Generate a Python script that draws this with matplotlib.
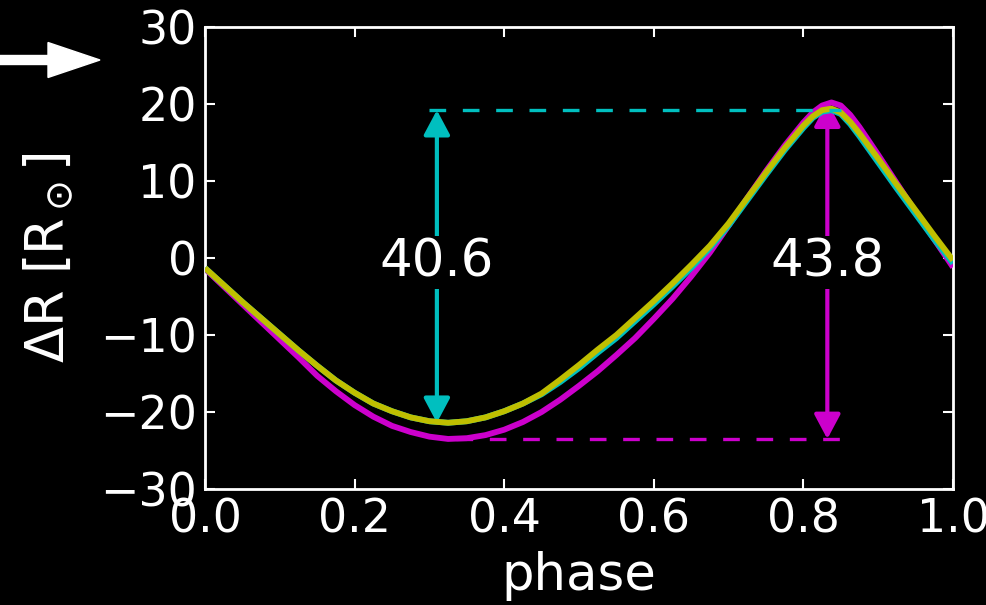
import matplotlib
matplotlib.use("Agg")
import matplotlib.pyplot as plt
from matplotlib.patches import FancyArrow

# Orbital phase grid shared by the three radius-variation curves
phase = [0.000, 0.025, 0.050, 0.075, 0.100, 0.125, 0.150, 0.175, 0.200, 0.225,
         0.250, 0.275, 0.300, 0.325, 0.350, 0.375, 0.400, 0.425, 0.450, 0.475,
         0.500, 0.525, 0.550, 0.575, 0.600, 0.625, 0.650, 0.675, 0.700, 0.725,
         0.750, 0.775, 0.800, 0.8125, 0.825, 0.8375, 0.850, 0.8625, 0.875, 0.900,
         0.925, 0.950, 0.975, 1.000]

dr_magenta = [-1.4, -3.7, -6.0, -8.3, -10.6, -12.9, -15.3, -17.3, -19.1, -20.6,
              -21.8, -22.6, -23.2, -23.5, -23.4, -23.0, -22.3, -21.3, -20.0, -18.4,
              -16.6, -14.7, -12.6, -10.4, -7.9, -5.3, -2.4, 0.7, 4.2, 7.8,
              11.3, 14.6, 17.6, 18.9, 19.8, 20.2, 19.8, 18.6, 17.0, 13.4,
              9.7, 6.0, 2.4, -1.2]

dr_cyan = [-1.3, -3.5, -5.7, -7.8, -9.9, -12.0, -14.0, -15.9, -17.5, -18.9,
           -19.9, -20.7, -21.2, -21.4, -21.2, -20.7, -19.9, -18.9, -17.7, -16.1,
           -14.3, -12.3, -10.4, -8.2, -6.0, -3.7, -1.3, 1.3, 4.2, 7.5,
           10.8, 14.0, 16.9, 18.2, 19.0, 19.2, 18.7, 17.4, 15.8, 12.4,
           9.0, 5.7, 2.4, -0.7]

dr_yellow = [-1.3, -3.5, -5.7, -7.8, -9.9, -12.0, -14.0, -15.9, -17.5, -18.9,
             -19.9, -20.7, -21.2, -21.4, -21.2, -20.7, -19.9, -18.9, -17.6, -15.8,
             -13.9, -11.9, -10.0, -7.8, -5.6, -3.3, -0.9, 1.6, 4.5, 7.8,
             11.1, 14.3, 17.2, 18.4, 19.2, 19.4, 18.9, 17.7, 16.2, 12.9,
             9.5, 6.2, 2.9, -0.3]

# Peak-to-peak amplitudes marked by the vertical arrows
cyan_max, cyan_min, cyan_at = 19.2, -21.4, 0.31
mag_max, mag_min, mag_at = 20.3, -23.5, 0.832

x_ticks = [0.0, 0.2, 0.4, 0.6, 0.8, 1.0]
y_ticks = [-30, -20, -10, 0, 10, 20, 30]

MAGENTA = "#cc00cc"
CYAN = "#00bfbf"
YELLOW = "#bfbf00"

plt.rcParams["font.family"] = ["DejaVu Sans"]
fig = plt.figure(figsize=(9.86, 6.05), dpi=100, facecolor="black")
ax = fig.add_axes([205 / 986, 1 - 489 / 605, 748 / 986, 462 / 605])
ax.set_facecolor("black")

# amplitude arrows sit underneath the curves
arrow_kw = dict(arrowstyle="<|-|>,head_length=0.6,head_width=0.32",
                lw=3, shrinkA=0, shrinkB=0, mutation_scale=25)
ax.annotate("", xy=(cyan_at, cyan_max), xytext=(cyan_at, cyan_min),
            arrowprops=dict(color=CYAN, **arrow_kw), zorder=1)
ax.annotate("", xy=(mag_at, mag_max), xytext=(mag_at, mag_min),
            arrowprops=dict(color=MAGENTA, **arrow_kw), zorder=1)

ax.plot(phase, dr_magenta, color=MAGENTA, lw=4.2, zorder=3,
        solid_capstyle="butt", solid_joinstyle="round")
ax.plot(phase, dr_cyan, color=CYAN, lw=4.2, zorder=4,
        solid_capstyle="butt", solid_joinstyle="round")
ax.plot(phase, dr_yellow, color=YELLOW, lw=4.2, zorder=5,
        solid_capstyle="butt", solid_joinstyle="round")

# dashed guides at the extremes
ax.plot([0.30, 0.85], [cyan_max, cyan_max], color=CYAN, lw=2.4,
        dashes=(5.0, 5.0), zorder=6)
ax.plot([0.335, 0.85], [mag_min, mag_min], color=MAGENTA, lw=2.4,
        dashes=(5.0, 5.0), zorder=6)

# amplitude labels, drawn over a black box to mask the arrow shaft
for xpos, top, bot in [(cyan_at, cyan_max, cyan_min), (mag_at, mag_max, mag_min)]:
    ax.text(xpos, -0.6, f"{top - bot:.1f}", color="white", fontsize=37,
            ha="center", va="center", zorder=7,
            bbox=dict(facecolor="black", edgecolor="none", pad=1))

ax.set_xlim(0, 1)
ax.set_ylim(-30, 30)
ax.set_xticks(x_ticks)
ax.set_yticks(y_ticks)
ax.set_xticklabels([f"{t:.1f}" for t in x_ticks])
ax.set_yticklabels([f"{t}".replace("-", "\u2212") for t in y_ticks])
ax.tick_params(direction="in", length=7, width=1.5, colors="white",
               labelsize=33, top=True, right=True, pad=6)
for s in ax.spines.values():
    s.set_color("white")
    s.set_linewidth(2)

ax.set_xlabel("phase", color="white", fontsize=37, labelpad=6)
ax.set_ylabel(r"$\Delta$R [R$_\odot$]", color="white", fontsize=38, labelpad=17)

# pointer arrow at the upper left
fig.patches.append(FancyArrow(-0.05, 5.45, 1.05, 0, width=0.09,
                              head_width=0.35, head_length=0.52,
                              length_includes_head=True, color="white",
                              transform=fig.dpi_scale_trans, figure=fig))

fig.savefig("out.png", dpi=100, facecolor="black")
